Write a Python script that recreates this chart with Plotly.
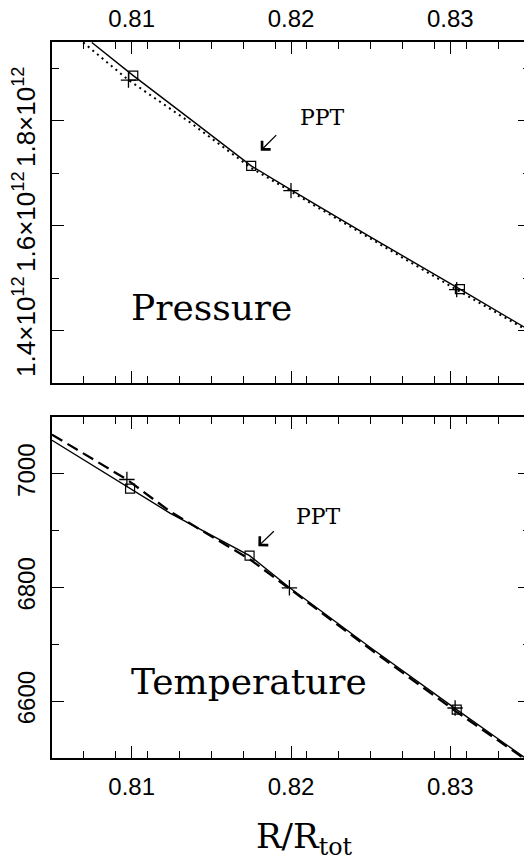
import plotly.graph_objects as go

# ---------------- data ----------------
# Pressure panel
r_p_solid = [0.8075, 0.8101, 0.8137, 0.8175, 0.8200, 0.8250, 0.8306, 0.8350]
p_solid = [1.949e12, 1.886e12, 1.8025e12, 1.714e12, 1.668e12, 1.578e12, 1.479e12, 1.400e12]
r_p_dot = [0.80696, 0.8098, 0.8137, 0.8175, 0.8200, 0.8250, 0.8305, 0.8350]
p_dot = [1.949e12, 1.8775e12, 1.796e12, 1.710e12, 1.665e12, 1.575e12, 1.476e12, 1.397e12]
r_p_sq = [0.8101, 0.8175, 0.8306]
p_sq = [1.886e12, 1.714e12, 1.479e12]
r_p_plus = [0.8098, 0.8200, 0.8304]
p_plus = [1.8775e12, 1.6667e12, 1.478e12]

# Temperature panel
r_t_solid = [0.805, 0.8099, 0.8124, 0.8174, 0.8199, 0.8250, 0.8304, 0.8347]
t_solid = [7059, 6974, 6931, 6856, 6800, 6694, 6585, 6500]
r_t_dash = [0.805, 0.8097, 0.8124, 0.8174, 0.8199, 0.8250, 0.8303, 0.8347]
t_dash = [7069, 6990, 6934, 6850, 6798, 6691, 6583, 6498]
r_t_sq = [0.8099, 0.8174, 0.8304]
t_sq = [6974, 6856, 6585]
r_t_plus = [0.8097, 0.8199, 0.8303]
t_plus = [6990, 6799.5, 6588]

# PPT arrow heads
ppt_p = (0.8181, 1.7429e12)
ppt_t = (0.81795, 6872.6)

# axes ticks
x_range = [0.805, 0.835]
p_range = [1.3e12, 1.95e12]
t_range = [6500, 7100]
p_tickvals = [1.4e12, 1.6e12, 1.8e12]
p_ticktext = ["1.4×10<sup>12</sup>", "1.6×10<sup>12</sup>", "1.8×10<sup>12</sup>"]
p_minor = [1.3e12, 1.5e12, 1.7e12, 1.9e12]
t_tickvals = [6600, 6800, 7000]
t_ticktext = ["6600", "6800", "7000"]
t_minor = [6500, 6700, 6900, 7100]

# ---------------- figure ----------------
# the page body adds an 8px margin, so the figure is drawn 8px smaller and
# all page positions are shifted by that offset
OFF = 8
W, H = 532 - OFF, 860 - OFF
L, T = 52 - OFF, 42 - OFF
R = W - (530 - OFF)
B = H - (758 - OFF)
PH = H - T - B
PW = W - L - R
def py(p):  # page pixel y -> paper
    return (H - B - (p - OFF)) / PH
def px(p):  # page pixel x -> paper
    return (p - OFF - L) / PW

fig = go.Figure()
line_w = 1.4

fig.add_trace(go.Scatter(x=r_p_dot, y=p_dot, mode="lines", xaxis="x", yaxis="y",
                         line=dict(color="black", width=2, dash="2px,4px")))
fig.add_trace(go.Scatter(x=r_p_solid, y=p_solid, mode="lines", xaxis="x", yaxis="y",
                         line=dict(color="black", width=line_w)))
fig.add_trace(go.Scatter(x=r_p_sq, y=p_sq, mode="markers", xaxis="x", yaxis="y",
                         marker=dict(symbol="square-open", size=9, color="black",
                                     line=dict(width=1.2, color="black"))))
fig.add_trace(go.Scatter(x=r_p_plus, y=p_plus, mode="markers", xaxis="x", yaxis="y",
                         marker=dict(symbol="cross-thin", size=11, color="black",
                                     line=dict(width=1.3, color="black"))))

fig.add_trace(go.Scatter(x=r_t_dash, y=t_dash, mode="lines", xaxis="x2", yaxis="y2",
                         line=dict(color="black", width=2.3, dash="12px,6px")))
fig.add_trace(go.Scatter(x=r_t_solid, y=t_solid, mode="lines", xaxis="x2", yaxis="y2",
                         line=dict(color="black", width=line_w)))
fig.add_trace(go.Scatter(x=r_t_sq, y=t_sq, mode="markers", xaxis="x2", yaxis="y2",
                         marker=dict(symbol="square-open", size=9, color="black",
                                     line=dict(width=1.2, color="black"))))
fig.add_trace(go.Scatter(x=r_t_plus, y=t_plus, mode="markers", xaxis="x2", yaxis="y2",
                         marker=dict(symbol="cross-thin", size=11, color="black",
                                     line=dict(width=1.3, color="black"))))

tickfont = dict(family="Liberation Sans", size=24, color="black")
common_x = dict(range=x_range, tickmode="linear", tick0=0.81, dtick=0.01, automargin=False,
                tickformat=".2f", ticks="inside", ticklen=12, tickwidth=1.3,
                tickcolor="black", showline=True, linecolor="black", linewidth=1.5,
                mirror="ticks", showgrid=False, zeroline=False, tickfont=tickfont,
                minor=dict(tickmode="linear", tick0=0.805, dtick=0.002, ticks="inside",
                           ticklen=7, tickwidth=1.2, tickcolor="black", showgrid=False))
common_y = dict(ticks="inside", ticklen=12, tickwidth=1.3, tickcolor="black", automargin=False,
                showline=True, linecolor="black", linewidth=1.5, mirror="ticks",
                showgrid=False, zeroline=False, tickfont=tickfont, tickangle=-90)

top_dom = [1 - (383 - 42) / PH, 1]
bot_dom = [0, (758 - 417) / PH]

fig.update_layout(
    template="none",
    width=W, height=H, margin=dict(l=L, r=R, t=T, b=B, autoexpand=False),
    paper_bgcolor="white", plot_bgcolor="white", showlegend=False,
    xaxis=dict(common_x, anchor="y", side="top", ticklabelstandoff=4),
    yaxis=dict(common_y, domain=top_dom, range=p_range, tickmode="array",
               tickvals=p_tickvals, ticktext=p_ticktext, anchor="x", ticklabelstandoff=5,
               tickfont=dict(family="Liberation Sans", size=26, color="black"),
               minor=dict(tickmode="array", tickvals=p_minor, ticks="inside", ticklen=7,
                          tickwidth=1.2, tickcolor="black", showgrid=False)),
    xaxis2=dict(common_x, anchor="y2", side="bottom", ticklabelstandoff=6),
    yaxis2=dict(common_y, domain=bot_dom, range=t_range, tickmode="array",
                tickvals=t_tickvals, ticktext=t_ticktext, anchor="x2", ticklabelstandoff=6,
                minor=dict(tickmode="array", tickvals=t_minor, ticks="inside", ticklen=7,
                           tickwidth=1.2, tickcolor="black", showgrid=False)),
)

serif = "DejaVu Serif"
ann = []
ann.append(dict(text="Pressure", xref="paper", yref="paper", x=px(128.5), y=py(307.6),
                xanchor="left", yanchor="middle", showarrow=False,
                font=dict(family=serif, size=36, color="black")))
ann.append(dict(text="Temperature", xref="paper", yref="paper", x=px(128.5), y=py(681.7),
                xanchor="left", yanchor="middle", showarrow=False,
                font=dict(family=serif, size=36, color="black")))
ann.append(dict(text="PPT", xref="paper", yref="paper", x=px(298), y=py(117.5),
                xanchor="left", yanchor="middle", showarrow=False,
                font=dict(family=serif, size=22, color="black")))
ann.append(dict(text="PPT", xref="paper", yref="paper", x=px(293.5), y=py(516.3),
                xanchor="left", yanchor="middle", showarrow=False,
                font=dict(family=serif, size=22, color="black")))
ann.append(dict(text="", xref="x", yref="y", x=ppt_p[0], y=ppt_p[1], ax=17, ay=-17,
                showarrow=True, arrowhead=4, arrowsize=1.8, arrowwidth=1.3, arrowcolor="black"))
ann.append(dict(text="", xref="x2", yref="y2", x=ppt_t[0], y=ppt_t[1], ax=17, ay=-16.5,
                showarrow=True, arrowhead=4, arrowsize=1.8, arrowwidth=1.3, arrowcolor="black"))
ann.append(dict(text="R/R<sub>tot</sub>", xref="paper", yref="paper", x=px(304), y=py(838),
                xanchor="center", yanchor="middle", showarrow=False,
                font=dict(family=serif, size=34, color="black")))
fig.update_layout(annotations=ann)

fig.write_html("out.html")
